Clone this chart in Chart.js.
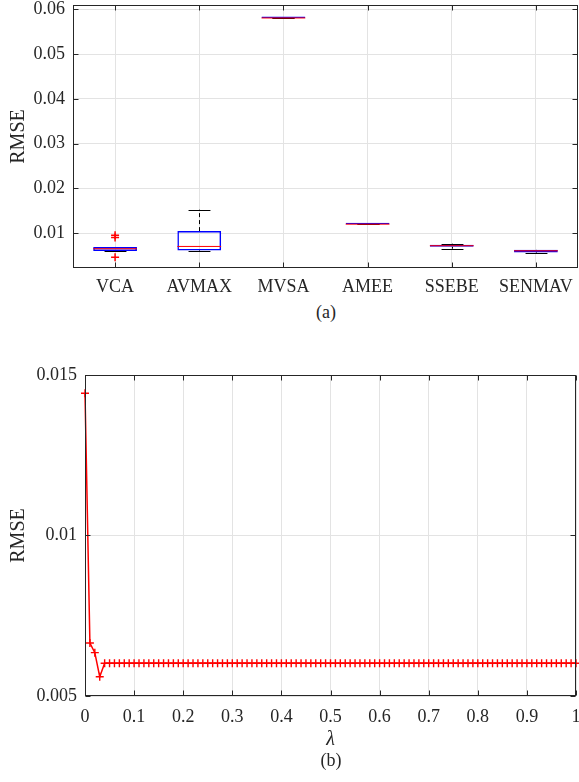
<!DOCTYPE html>
<html lang="en">
<head>
<meta charset="UTF-8">
<title>RMSE</title>
<script src="https://cdn.jsdelivr.net/npm/chart.js"></script>
<style>
    body { margin: 0; background: #fff; }
    .panel { position: absolute; left: 0; }
    .caption {
        position: absolute;
        font-family: "Liberation Serif", serif;
        font-size: 18px;
        color: #262626;
        transform: translate(-50%, -50%);
    }
</style>
</head>
<body>
<canvas id="boxChart" class="panel" width="579" height="300" style="top:0"></canvas>
<div class="caption" style="left:326px; top:312px">(a)</div>
<canvas id="lambdaChart" class="panel" width="579" height="420" style="top:340px"></canvas>
<div class="caption" style="left:331px; top:760px">(b)</div>

<script>
// (a) RMSE per method, box plot statistics
const methods = ['VCA', 'AVMAX', 'MVSA', 'AMEE', 'SSEBE', 'SENMAV'];
const boxLow = [0.0060, 0.00612, 0.0581, 0.0120, 0.00696, 0.00568];
const boxHigh = [0.00687, 0.01045, 0.0581, 0.0120, 0.00740, 0.00627];
const medians = [0.00651, 0.00702, 0.0581, 0.0120, 0.00718, 0.00604];
const whiskerLow = [0.0059, 0.0059, 0.0581, 0.0120, 0.00651, 0.00545];
const whiskerHigh = [0.0069, 0.01524, 0.0581, 0.0120, 0.00763, 0.0063];
const outlierMethod = ['VCA', 'VCA', 'VCA'];
const outlierValue = [0.0095, 0.0090, 0.00463];
const yTicksA = [0.01, 0.02, 0.03, 0.04, 0.05, 0.06];
const yLabelsA = ['0.01', '0.02', '0.03', '0.04', '0.05', '0.06'];

// (b) RMSE against lambda
const lambda = [
    0, 0.01, 0.02, 0.03, 0.04, 0.05, 0.06, 0.07, 0.08, 0.09,
    0.10, 0.11, 0.12, 0.13, 0.14, 0.15, 0.16, 0.17, 0.18, 0.19,
    0.20, 0.21, 0.22, 0.23, 0.24, 0.25, 0.26, 0.27, 0.28, 0.29,
    0.30, 0.31, 0.32, 0.33, 0.34, 0.35, 0.36, 0.37, 0.38, 0.39,
    0.40, 0.41, 0.42, 0.43, 0.44, 0.45, 0.46, 0.47, 0.48, 0.49,
    0.50, 0.51, 0.52, 0.53, 0.54, 0.55, 0.56, 0.57, 0.58, 0.59,
    0.60, 0.61, 0.62, 0.63, 0.64, 0.65, 0.66, 0.67, 0.68, 0.69,
    0.70, 0.71, 0.72, 0.73, 0.74, 0.75, 0.76, 0.77, 0.78, 0.79,
    0.80, 0.81, 0.82, 0.83, 0.84, 0.85, 0.86, 0.87, 0.88, 0.89,
    0.90, 0.91, 0.92, 0.93, 0.94, 0.95, 0.96, 0.97, 0.98, 0.99,
    1.00
];
const rmse = [
    0.01443, 0.00665, 0.00635, 0.00560, 0.00602, 0.00602, 0.00602, 0.00602, 0.00602, 0.00602,
    0.00602, 0.00602, 0.00602, 0.00602, 0.00602, 0.00602, 0.00602, 0.00602, 0.00602, 0.00602,
    0.00602, 0.00602, 0.00602, 0.00602, 0.00602, 0.00602, 0.00602, 0.00602, 0.00602, 0.00602,
    0.00602, 0.00602, 0.00602, 0.00602, 0.00602, 0.00602, 0.00602, 0.00602, 0.00602, 0.00602,
    0.00602, 0.00602, 0.00602, 0.00602, 0.00602, 0.00602, 0.00602, 0.00602, 0.00602, 0.00602,
    0.00602, 0.00602, 0.00602, 0.00602, 0.00602, 0.00602, 0.00602, 0.00602, 0.00602, 0.00602,
    0.00602, 0.00602, 0.00602, 0.00602, 0.00602, 0.00602, 0.00602, 0.00602, 0.00602, 0.00602,
    0.00602, 0.00602, 0.00602, 0.00602, 0.00602, 0.00602, 0.00602, 0.00602, 0.00602, 0.00602,
    0.00602, 0.00602, 0.00602, 0.00602, 0.00602, 0.00602, 0.00602, 0.00602, 0.00602, 0.00602,
    0.00602, 0.00602, 0.00602, 0.00602, 0.00602, 0.00602, 0.00602, 0.00602, 0.00602, 0.00602,
    0.00602
];
const xTicksB = [0, 0.1, 0.2, 0.3, 0.4, 0.5, 0.6, 0.7, 0.8, 0.9, 1];
const xLabelsB = ['0', '0.1', '0.2', '0.3', '0.4', '0.5', '0.6', '0.7', '0.8', '0.9', '1'];
const yTicksB = [0.005, 0.01, 0.015];
const yLabelsB = ['0.005', '0.01', '0.015'];

const ink = '#262626';
const gridGray = '#e3e3e3';
Chart.defaults.font.family = '"Liberation Serif", "Times New Roman", serif';
Chart.defaults.color = ink;

// no extra room for labels that stick out past the plot edges
const noLabelPadding = s => {
    s.paddingLeft = 0;
    s.paddingRight = 0;
    s.paddingTop = 0;
    s.paddingBottom = 0;
};

// box around the plot area with ticks pointing inwards on all four sides
const axesBox = {
    id: 'axesBox',
    afterDraw(chart) {
        const { ctx, chartArea: a, scales: { x, y } } = chart;
        const len = 5;
        const l = Math.round(a.left) + 0.5, r = Math.round(a.right) - 0.5;
        const t = Math.round(a.top) + 0.5, b = Math.round(a.bottom) - 0.5;
        ctx.save();
        ctx.strokeStyle = ink;
        ctx.lineWidth = 1;
        ctx.strokeRect(l, t, r - l, b - t);
        ctx.beginPath();
        x.ticks.forEach((tk, i) => {
            const px = Math.round(x.getPixelForTick(i)) + 0.5;
            ctx.moveTo(px, b); ctx.lineTo(px, b - len);
            ctx.moveTo(px, t); ctx.lineTo(px, t + len);
        });
        y.ticks.forEach((tk, i) => {
            const py = Math.round(y.getPixelForTick(i)) + 0.5;
            ctx.moveTo(l, py); ctx.lineTo(l + len, py);
            ctx.moveTo(r, py); ctx.lineTo(r - len, py);
        });
        ctx.stroke();
        ctx.restore();
    }
};

// whiskers, caps and median lines of the box plot
const boxParts = {
    id: 'boxParts',
    beforeDatasetsDraw(chart) {
        const { ctx, scales: { x, y } } = chart;
        const bars = chart.getDatasetMeta(0).data;
        ctx.save();
        ctx.strokeStyle = '#000';
        ctx.lineWidth = 1;
        methods.forEach((m, i) => {
            const cx = Math.round(x.getPixelForValue(i)) + 0.5;
            const cap = bars[i].width / 4;
            ctx.setLineDash([4, 3]);
            ctx.beginPath();
            ctx.moveTo(cx, y.getPixelForValue(boxHigh[i]));
            ctx.lineTo(cx, y.getPixelForValue(whiskerHigh[i]));
            ctx.moveTo(cx, y.getPixelForValue(boxLow[i]));
            ctx.lineTo(cx, y.getPixelForValue(whiskerLow[i]));
            ctx.stroke();
            ctx.setLineDash([]);
            ctx.beginPath();
            [whiskerHigh[i], whiskerLow[i]].forEach(v => {
                const py = Math.round(y.getPixelForValue(v)) + 0.5;
                ctx.moveTo(cx - cap, py);
                ctx.lineTo(cx + cap, py);
            });
            ctx.stroke();
        });
        ctx.restore();
    },
    afterDatasetsDraw(chart) {
        const { ctx, scales: { x, y } } = chart;
        const bars = chart.getDatasetMeta(0).data;
        ctx.save();
        ctx.strokeStyle = '#ff0000';
        ctx.lineWidth = 1;
        ctx.beginPath();
        methods.forEach((m, i) => {
            const cx = x.getPixelForValue(i);
            const half = bars[i].width / 2;
            const py = y.getPixelForValue(medians[i]);
            ctx.moveTo(cx - half, py);
            ctx.lineTo(cx + half, py);
        });
        ctx.stroke();
        ctx.restore();
    }
};

new Chart(document.getElementById('boxChart'), {
    type: 'bar',
    data: {
        labels: methods,
        datasets: [{
            data: methods.map((m, i) => [boxLow[i], boxHigh[i]]),
            backgroundColor: 'rgba(0,0,0,0)',
            borderColor: '#0000ff',
            borderWidth: 1.5,
            borderSkipped: false,
            minBarLength: 1.5,
            barPercentage: 0.52,
            categoryPercentage: 1
        }, {
            type: 'scatter',
            data: outlierMethod.map((m, i) => ({ x: m, y: outlierValue[i] })),
            pointStyle: 'cross',
            pointRadius: 4,
            borderColor: '#ff0000',
            borderWidth: 1.5
        }]
    },
    options: {
        responsive: false,
        animation: false,
        layout: { autoPadding: false, padding: { top: 5, right: 1, left: 0, bottom: 0 } },
        plugins: { legend: { display: false }, tooltip: { enabled: false } },
        scales: {
            x: {
                type: 'category',
                offset: true,
                grid: { color: gridGray, offset: false, drawTicks: false },
                border: { display: false },
                ticks: { font: { size: 18 }, padding: 8 },
                afterFit: s => { s.height = 32; noLabelPadding(s); }
            },
            y: {
                min: 0.0022,
                max: 0.061,
                grid: { color: gridGray, drawTicks: false },
                border: { display: false },
                afterBuildTicks: s => { s.ticks = yTicksA.map(v => ({ value: v })); },
                ticks: { font: { size: 18 }, padding: 8, callback: (v, i) => yLabelsA[i] },
                title: { display: true, text: 'RMSE', font: { size: 20 }, padding: { top: 7, bottom: 0 } },
                afterFit: s => { s.width = 73; noLabelPadding(s); }
            }
        }
    },
    plugins: [boxParts, axesBox]
});

new Chart(document.getElementById('lambdaChart'), {
    type: 'line',
    data: {
        datasets: [{
            data: lambda.map((l, i) => ({ x: l, y: rmse[i] })),
            borderColor: '#ff0000',
            borderWidth: 1.5,
            pointStyle: 'cross',
            pointRadius: 4,
            pointBorderColor: '#ff0000',
            pointBorderWidth: 1.4,
            tension: 0,
            fill: false,
            clip: false
        }]
    },
    options: {
        responsive: false,
        animation: false,
        layout: { autoPadding: false, padding: { top: 35, right: 3, left: 0, bottom: 0 } },
        plugins: { legend: { display: false }, tooltip: { enabled: false } },
        scales: {
            x: {
                type: 'linear',
                min: 0,
                max: 1,
                grid: { color: gridGray, drawTicks: false },
                border: { display: false },
                afterBuildTicks: s => { s.ticks = xTicksB.map(v => ({ value: v })); },
                ticks: { font: { size: 18 }, padding: 10, callback: (v, i) => xLabelsB[i] },
                title: { display: true, text: 'λ', font: { size: 20, style: 'italic' }, padding: { top: 0, bottom: 8 } },
                afterFit: s => { s.height = 64; noLabelPadding(s); }
            },
            y: {
                min: 0.005,
                max: 0.015,
                grid: { color: gridGray, drawTicks: false },
                border: { display: false },
                afterBuildTicks: s => { s.ticks = yTicksB.map(v => ({ value: v })); },
                ticks: { font: { size: 18 }, padding: 8, callback: (v, i) => yLabelsB[i] },
                title: { display: true, text: 'RMSE', font: { size: 20 }, padding: { top: 7, bottom: 0 } },
                afterFit: s => { s.width = 85; noLabelPadding(s); }
            }
        }
    },
    plugins: [axesBox]
});
</script>
</body>
</html>
